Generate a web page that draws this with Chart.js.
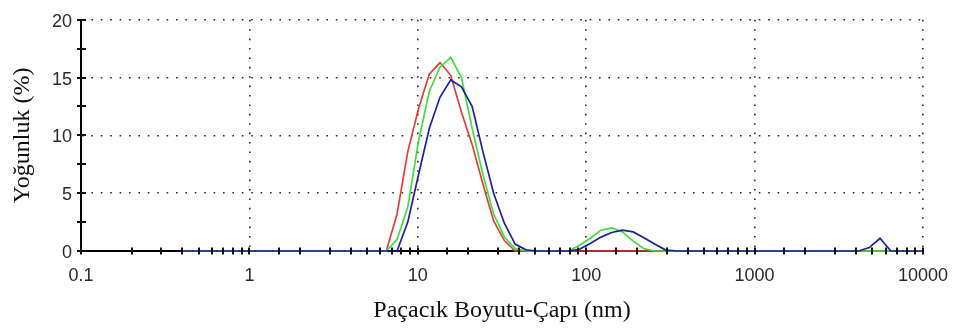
<!DOCTYPE html>
<html>
<head>
<meta charset="utf-8">
<script src="https://cdn.jsdelivr.net/npm/chart.js@4.4.1/dist/chart.umd.min.js"></script>
<style>
  html, body { margin: 0; padding: 0; background: #ffffff; }
  #c { display: block; }
</style>
</head>
<body>
<canvas id="c" width="962" height="332"></canvas>
<script>
// Particle size bins (nm)
const sizes = [0.4, 0.4632, 0.5365, 0.6213, 0.7195, 0.8332, 0.9649, 1.117, 1.294, 1.499,
  1.736, 2.01, 2.328, 2.696, 3.122, 3.615, 4.187, 4.849, 5.615, 6.503,
  7.531, 8.721, 10.1, 11.7, 13.54, 15.69, 18.17, 21.04, 24.36, 28.21,
  32.67, 37.84, 43.82, 50.75, 58.77, 68.06, 78.82, 91.28, 105.7, 122.4,
  141.8, 164.2, 190.1, 220.2, 255.0, 295.3, 342.0, 396.1, 458.7, 531.2,
  615.1, 712.4, 825.0, 955.4, 1106, 1281, 1484, 1718, 1990, 2305,
  2669, 3091, 3580, 4145, 4801, 5560, 6439, 7456, 8635, 10000];

// Intensity (%) per bin
const redSeries = [0, 0, 0, 0, 0, 0, 0, 0, 0, 0,
  0, 0, 0, 0, 0, 0, 0, 0, 0, 0,
  3.2, 8.6, 12.3, 15.3, 16.3, 15.2, 12.0, 9.2, 5.8, 2.6,
  0.9, 0, 0, 0, 0, 0, 0, 0, 0, 0,
  0, 0, 0, 0, 0, 0, 0, 0, 0, 0,
  0, 0, 0, 0, 0, 0, 0, 0, 0, 0,
  0, 0, 0, 0, 0, 0, 0, 0, 0, 0];

const greenSeries = [0, 0, 0, 0, 0, 0, 0, 0, 0, 0,
  0, 0, 0, 0, 0, 0, 0, 0, 0, 0,
  1.0, 3.8, 9.5, 13.8, 15.9, 16.75, 15.0, 10.6, 6.6, 3.2,
  1.2, 0.2, 0, 0, 0, 0, 0, 0.5, 1.1, 1.8,
  2.0, 1.65, 0.85, 0.2, 0, 0, 0, 0, 0, 0,
  0, 0, 0, 0, 0, 0, 0, 0, 0, 0,
  0, 0, 0, 0, 0, 0, 0, 0, 0, 0];

const blueSeries = [0, 0, 0, 0, 0, 0, 0, 0, 0, 0,
  0, 0, 0, 0, 0, 0, 0, 0, 0, 0,
  0, 2.5, 6.6, 10.6, 13.3, 14.8, 14.2, 12.5, 8.6, 5.0,
  2.4, 0.6, 0.1, 0, 0, 0, 0, 0.15, 0.65, 1.2,
  1.6, 1.8, 1.65, 1.15, 0.6, 0.1, 0, 0, 0, 0,
  0, 0, 0, 0, 0, 0, 0, 0, 0, 0,
  0, 0, 0, 0, 0.3, 1.1, 0, 0, 0, 0];

const xMin = 0.1, xMax = 10000;
const yMin = 0, yMax = 20, yStep = 2.5, yLabelStep = 5;

const xTitle = 'Paçacık Boyutu-Çapı (nm)';
const yTitle = 'Yoğunluk (%)';

function toPoints(arr) { return sizes.map((s, i) => ({ x: s, y: arr[i] })); }
function isDecade(v) {
  const l = Math.log10(v);
  return Math.abs(l - Math.round(l)) < 1e-6;
}

const dotted = 'rgba(20,20,20,0.9)';

const axisTicks = {
  id: 'axisTicks',
  afterDatasetsDraw(chart) {
    const ctx = chart.ctx;
    const xs = chart.scales.x, ys = chart.scales.y;
    const area = chart.chartArea;
    ctx.save();
    ctx.strokeStyle = '#111';
    ctx.lineWidth = 2;
    ctx.beginPath();
    xs.ticks.forEach(t => {
      const px = Math.round(xs.getPixelForValue(t.value));
      ctx.moveTo(px, area.bottom - 3.5);
      ctx.lineTo(px, area.bottom + 3.5);
    });
    ys.ticks.forEach(t => {
      const py = Math.round(ys.getPixelForValue(t.value));
      ctx.moveTo(area.left - 4, py);
      ctx.lineTo(area.left + 5, py);
    });
    ctx.stroke();
    ctx.restore();
  }
};

new Chart(document.getElementById('c'), {
  type: 'line',
  data: {
    datasets: [
      { label: 'blue', data: toPoints(blueSeries), borderColor: '#1f1f9e', borderWidth: 1.7 },
      { label: 'green', data: toPoints(greenSeries), borderColor: '#3fe03f', borderWidth: 1.7 },
      { label: 'red', data: toPoints(redSeries), borderColor: '#e0403a', borderWidth: 1.7 }
    ]
  },
  options: {
    responsive: false,
    animation: false,
    devicePixelRatio: 1,
    layout: { padding: { top: 15, right: 28, left: 0, bottom: 0 } },
    elements: { point: { radius: 0 }, line: { tension: 0 } },
    datasets: { line: { clip: false } },
    plugins: { legend: { display: false }, tooltip: { enabled: false } },
    scales: {
      x: {
        type: 'logarithmic',
        min: xMin, max: xMax,
        afterFit(s) { s.height = 81; },
        border: { display: true, color: '#000', width: 2, dash: [1.6, 7.8] },
        grid: {
          drawTicks: false,
          color: c => (c.tick && isDecade(c.tick.value) && c.tick.value > xMin) ? dotted : 'rgba(0,0,0,0)',
          lineWidth: 1.6
        },
        ticks: {
          autoSkip: false, maxRotation: 0, minRotation: 0, padding: 14,
          color: '#2a2a2a',
          font: { family: 'Liberation Sans, Arial, sans-serif', size: 18 },
          callback: v => isDecade(v) ? String(v) : ''
        },
        title: {
          display: true, text: xTitle, color: '#111',
          font: { family: 'Liberation Serif, Times New Roman, serif', size: 24 },
          padding: { top: 0, bottom: 7 }
        }
      },
      y: {
        min: yMin, max: yMax,
        afterFit(s) { s.width = 81; },
        border: { display: true, color: '#000', width: 2, dash: [1.6, 7.8] },
        grid: {
          drawTicks: false,
          color: c => (c.tick && c.tick.value > 0 && c.tick.value % yLabelStep === 0) ? dotted : 'rgba(0,0,0,0)',
          lineWidth: 1.6
        },
        ticks: {
          stepSize: yStep, padding: 9, labelOffset: 2,
          color: '#2a2a2a',
          font: { family: 'Liberation Sans, Arial, sans-serif', size: 18 },
          callback: v => (v % yLabelStep === 0) ? String(v) : ''
        },
        title: {
          display: true, text: yTitle, color: '#111',
          font: { family: 'Liberation Serif, Times New Roman, serif', size: 24 },
          padding: { top: 8, bottom: 0 }
        }
      }
    }
  },
  plugins: [axisTicks]
});
</script>
</body>
</html>
